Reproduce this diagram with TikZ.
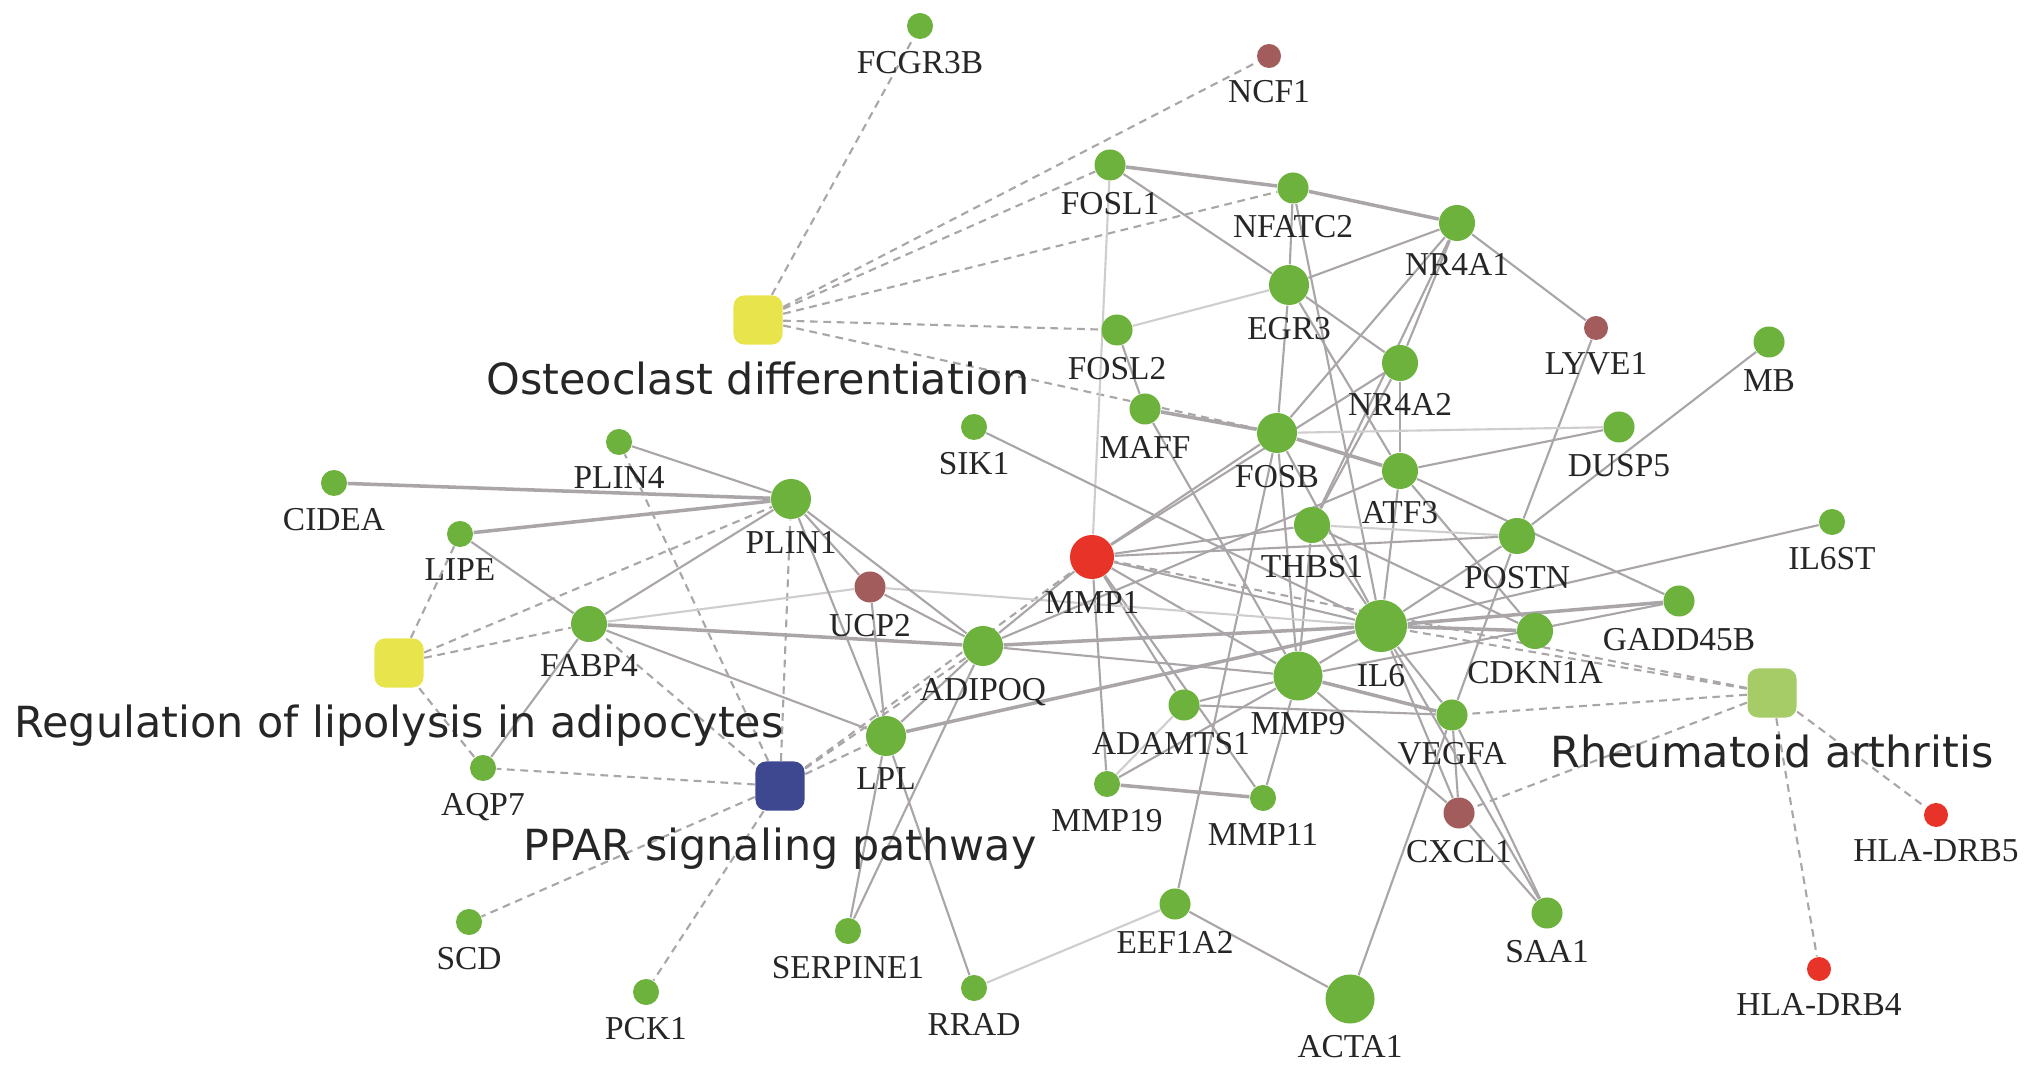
\documentclass[tikz,border=0pt]{standalone}
\usepackage{fontspec}
\setmainfont{Liberation Serif}
\newfontfamily\pwfont{DejaVu Sans}
\usetikzlibrary{positioning}
\pgfdeclarelayer{edges}
\pgfsetlayers{edges,main}
\definecolor{gene}{RGB}{108,178,60}
\definecolor{brn}{RGB}{163,92,92}
\definecolor{hot}{RGB}{232,52,40}
\definecolor{yel}{RGB}{232,228,76}
\definecolor{lgreen}{RGB}{166,204,104}
\definecolor{navy}{RGB}{62,72,144}
\definecolor{edgec}{RGB}{170,165,168}
\tikzstyle{gs} = [circle, fill=gene, inner sep=0pt, minimum size=0.26cm]
\tikzstyle{gm} = [gs, minimum size=0.31cm]
\tikzstyle{gl} = [gs, minimum size=0.36cm]
\tikzstyle{gx} = [gs, minimum size=0.40cm]
\tikzstyle{lbl} = [font=\fontsize{9.5}{10}\selectfont, inner sep=1pt, text=black!85]
\tikzstyle{pway} = [rectangle, rounded corners=3pt, inner sep=0pt, minimum size=0.49cm]
\tikzstyle{plbl} = [font=\pwfont\fontsize{12.2}{14}\selectfont, inner sep=1pt, text=black!85, label distance=3.5pt]
\tikzstyle{link} = [draw=edgec, line width=0.6pt]
\tikzstyle{strong} = [link, line width=1pt]
\tikzstyle{faint} = [draw=edgec!55, line width=0.6pt]
\tikzstyle{plink} = [draw=edgec, line width=0.6pt, dash pattern=on 2.2pt off 1.6pt]

\begin{document}
\begin{tikzpicture}[x=0.01cm, y=-0.01cm, label distance=2pt]
  \useasboundingbox (0,0) rectangle (2031,1068);

  % pathways
  \node[pway, fill=yel, label={[plbl]below:Osteoclast differentiation}] (osteo) at (758,320) {};
  \node[pway, fill=yel, label={[plbl]below:Regulation of lipolysis in adipocytes}] (regul) at (399,663) {};
  \node[pway, fill=navy, label={[plbl]below:PPAR signaling pathway}] (ppar) at (780,786) {};
  \node[pway, fill=lgreen, label={[plbl]below:Rheumatoid arthritis}] (rheum) at (1772,693) {};

  % genes
  \node[gs, label={[lbl]below:FCGR3B}] (fcgr3b) at (920,26) {};
  \node[gs, fill=brn, minimum size=0.24cm, label={[lbl]below:NCF1}] (ncf1) at (1269,56) {};
  \node[gm, label={[lbl]below:FOSL1}] (fosl1) at (1110,165) {};
  \node[gm, label={[lbl]below:NFATC2}] (nfatc2) at (1293,188) {};
  \node[gl, label={[lbl]below:NR4A1}] (nr4a1) at (1457,223) {};
  \node[gx, label={[lbl]below:EGR3}] (egr3) at (1289,285) {};
  \node[gm, label={[lbl]below:FOSL2}] (fosl2) at (1117,330) {};
  \node[gs, fill=brn, minimum size=0.24cm, label={[lbl]below:LYVE1}] (lyve1) at (1596,328) {};
  \node[gl, label={[lbl]below:NR4A2}] (nr4a2) at (1400,363) {};
  \node[gm, label={[lbl]below:MB}] (mb) at (1769,342) {};
  \node[gm, label={[lbl]below:MAFF}] (maff) at (1145,409) {};
  \node[gs, label={[lbl]below:SIK1}] (sik1) at (974,427) {};
  \node[gx, label={[lbl]below:FOSB}] (fosb) at (1277,433) {};
  \node[gm, label={[lbl]below:DUSP5}] (dusp5) at (1619,427) {};
  \node[gs, label={[lbl]below:PLIN4}] (plin4) at (619,442) {};
  \node[gl, label={[lbl]below:ATF3}] (atf3) at (1400,471) {};
  \node[gs, label={[lbl]below:CIDEA}] (cidea) at (334,483) {};
  \node[gx, label={[lbl]below:PLIN1}] (plin1) at (791,499) {};
  \node[gs, label={[lbl]below:LIPE}] (lipe) at (460,534) {};
  \node[gl, label={[lbl]below:THBS1}] (thbs1) at (1312,525) {};
  \node[gl, label={[lbl]below:POSTN}] (postn) at (1517,536) {};
  \node[gs, label={[lbl]below:IL6ST}] (il6st) at (1832,522) {};
  \node[gs, fill=hot, minimum size=0.44cm, label={[lbl]below:MMP1}] (mmp1) at (1092,557) {};
  \node[gm, fill=brn, label={[lbl]below:UCP2}] (ucp2) at (870,587) {};
  \node[gm, label={[lbl]below:GADD45B}] (gadd45b) at (1679,601) {};
  \node[gl, label={[lbl]below:FABP4}] (fabp4) at (589,624) {};
  \node[gs, minimum size=0.52cm, label={[lbl]below:IL6}] (il6) at (1381,626) {};
  \node[gl, label={[lbl]below:CDKN1A}] (cdkn1a) at (1535,631) {};
  \node[gx, label={[lbl]below:ADIPOQ}] (adipoq) at (983,646) {};
  \node[gs, minimum size=0.49cm, label={[lbl]below:MMP9}] (mmp9) at (1298,676) {};
  \node[gm, label={[lbl, xshift=-0.13cm]below:ADAMTS1}] (adamts1) at (1184,705) {};
  \node[gm, label={[lbl]below:VEGFA}] (vegfa) at (1452,715) {};
  \node[gx, label={[lbl]below:LPL}] (lpl) at (886,736) {};
  \node[gs, label={[lbl]below:AQP7}] (aqp7) at (483,768) {};
  \node[gs, label={[lbl]below:MMP19}] (mmp19) at (1107,784) {};
  \node[gs, label={[lbl]below:MMP11}] (mmp11) at (1263,798) {};
  \node[gm, fill=brn, label={[lbl]below:CXCL1}] (cxcl1) at (1459,813) {};
  \node[gs, fill=hot, minimum size=0.24cm, label={[lbl]below:HLA-DRB5}] (hla5) at (1936,815) {};
  \node[gm, label={[lbl]below:EEF1A2}] (eef1a2) at (1175,904) {};
  \node[gm, label={[lbl]below:SAA1}] (saa1) at (1547,913) {};
  \node[gs, label={[lbl]below:SCD}] (scd) at (469,922) {};
  \node[gs, label={[lbl]below:SERPINE1}] (serpine1) at (848,931) {};
  \node[gs, fill=hot, minimum size=0.24cm, label={[lbl]below:HLA-DRB4}] (hla4) at (1819,969) {};
  \node[gs, label={[lbl]below:PCK1}] (pck1) at (646,992) {};
  \node[gs, label={[lbl]below:RRAD}] (rrad) at (974,988) {};
  \node[gs, minimum size=0.49cm, label={[lbl]below:ACTA1}] (acta1) at (1350,999) {};

  \begin{pgfonlayer}{edges}
  \fill[white] (0,0) rectangle (2031,1068);

  % pathway members
  \draw[plink] (osteo) -- (fcgr3b);
  \draw[plink] (osteo) -- (ncf1);
  \draw[plink] (osteo) -- (fosl1);
  \draw[plink] (osteo) -- (nfatc2);
  \draw[plink] (osteo) -- (fosl2);
  \draw[plink] (osteo) -- (fosb);
  \draw[plink] (regul) -- (lipe);
  \draw[plink] (regul) -- (plin1);
  \draw[plink] (regul) -- (fabp4);
  \draw[plink] (regul) -- (aqp7);
  \draw[plink] (ppar) -- (aqp7);
  \draw[plink] (ppar) -- (plin4);
  \draw[plink] (ppar) -- (plin1);
  \draw[plink] (ppar) -- (fabp4);
  \draw[plink] (ppar) -- (lpl);
  \draw[plink] (ppar) -- (adipoq);
  \draw[plink] (ppar) -- (mmp1);
  \draw[plink] (ppar) -- (scd);
  \draw[plink] (ppar) -- (pck1);
  \draw[plink] (rheum) -- (mmp1);
  \draw[plink] (rheum) -- (il6);
  \draw[plink] (rheum) -- (vegfa);
  \draw[plink] (rheum) -- (cxcl1);
  \draw[plink] (rheum) -- (hla4);
  \draw[plink] (rheum) -- (hla5);

  % interactions
  \draw[strong] (fosl1) -- (nfatc2);
  \draw[strong] (nfatc2) -- (nr4a1);
  \draw[link] (fosl1) -- (egr3);
  \draw[link] (nfatc2) -- (egr3);
  \draw[link] (egr3) -- (nr4a1);
  \draw[faint] (egr3) -- (fosl2);
  \draw[link] (egr3) -- (nr4a2);
  \draw[link] (egr3) -- (fosb);
  \draw[link] (egr3) -- (atf3);
  \draw[link] (nfatc2) -- (il6);
  \draw[faint] (fosl1) -- (mmp1);
  \draw[link] (fosl2) -- (maff);
  \draw[strong] (maff) -- (fosb);
  \draw[link] (maff) -- (mmp9);
  \draw[link] (nr4a1) -- (lyve1);
  \draw[link] (nr4a1) -- (nr4a2);
  \draw[link] (nr4a1) -- (fosb);
  \draw[link] (nr4a1) -- (thbs1);
  \draw[link] (nr4a2) -- (atf3);
  \draw[link] (nr4a2) -- (thbs1);
  \draw[link] (lyve1) -- (postn);
  \draw[link] (mb) -- (postn);
  \draw[faint] (dusp5) -- (fosb);
  \draw[link] (dusp5) -- (atf3);
  \draw[strong] (fosb) -- (atf3);
  \draw[link] (fosb) -- (il6);
  \draw[link] (fosb) -- (mmp9);
  \draw[link] (fosb) -- (eef1a2);
  \draw[link] (mmp1) -- (fosb);
  \draw[link] (mmp1) -- (nr4a2);
  \draw[link] (mmp1) -- (thbs1);
  \draw[link] (mmp1) -- (postn);
  \draw[link] (mmp1) -- (il6);
  \draw[link] (mmp1) -- (mmp9);
  \draw[link] (mmp1) -- (adamts1);
  \draw[link] (mmp1) -- (mmp11);
  \draw[link] (mmp1) -- (mmp19);
  \draw[link] (sik1) -- (il6);
  \draw[link] (atf3) -- (il6);
  \draw[link] (atf3) -- (cdkn1a);
  \draw[link] (atf3) -- (gadd45b);
  \draw[link] (atf3) -- (adipoq);
  \draw[faint] (thbs1) -- (postn);
  \draw[link] (thbs1) -- (il6);
  \draw[link] (thbs1) -- (mmp9);
  \draw[link] (thbs1) -- (cdkn1a);
  \draw[link] (postn) -- (il6);
  \draw[link] (postn) -- (vegfa);
  \draw[link] (il6) -- (il6st);
  \draw[strong] (il6) -- (gadd45b);
  \draw[strong] (il6) -- (cdkn1a);
  \draw[link] (il6) -- (mmp9);
  \draw[link] (il6) -- (vegfa);
  \draw[link] (il6) -- (cxcl1);
  \draw[link] (il6) -- (saa1);
  \draw[link] (mmp9) -- (gadd45b);
  \draw[strong] (mmp9) -- (vegfa);
  \draw[link] (mmp9) -- (cxcl1);
  \draw[link] (mmp9) -- (mmp11);
  \draw[link] (mmp9) -- (mmp19);
  \draw[link] (mmp9) -- (adamts1);
  \draw[link] (adamts1) -- (vegfa);
  \draw[faint] (adamts1) -- (mmp19);
  \draw[strong] (mmp19) -- (mmp11);
  \draw[link] (vegfa) -- (cxcl1);
  \draw[link] (vegfa) -- (saa1);
  \draw[link] (vegfa) -- (acta1);
  \draw[link] (cxcl1) -- (saa1);
  \draw[link] (eef1a2) -- (acta1);
  \draw[faint] (eef1a2) -- (rrad);
  \draw[strong] (cidea) -- (plin1);
  \draw[link] (plin4) -- (plin1);
  \draw[strong] (lipe) -- (plin1);
  \draw[link] (lipe) -- (fabp4);
  \draw[link] (fabp4) -- (plin1);
  \draw[faint] (fabp4) -- (ucp2);
  \draw[faint] (ucp2) -- (il6);
  \draw[strong] (fabp4) -- (adipoq);
  \draw[link] (fabp4) -- (lpl);
  \draw[link] (fabp4) -- (aqp7);
  \draw[link] (plin1) -- (ucp2);
  \draw[link] (plin1) -- (adipoq);
  \draw[link] (plin1) -- (lpl);
  \draw[link] (ucp2) -- (adipoq);
  \draw[link] (ucp2) -- (lpl);
  \draw[link] (adipoq) -- (lpl);
  \draw[link] (adipoq) -- (mmp1);
  \draw[strong] (adipoq) -- (il6);
  \draw[link] (adipoq) -- (mmp9);
  \draw[strong] (lpl) -- (il6);
  \draw[link] (lpl) -- (serpine1);
  \draw[link] (lpl) -- (rrad);
  \draw[link] (adipoq) -- (serpine1);
  \end{pgfonlayer}
\end{tikzpicture}
\end{document}
